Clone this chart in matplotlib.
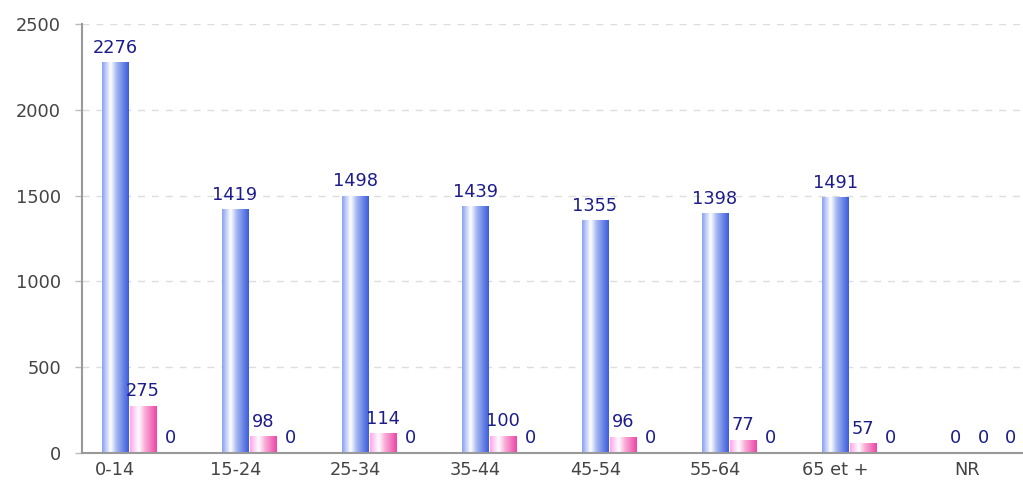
import matplotlib
matplotlib.use("Agg")
import matplotlib.pyplot as plt
import numpy as np
from matplotlib.colors import LinearSegmentedColormap

categories = ["0-14", "15-24", "25-34", "35-44", "45-54", "55-64", "65 et +", "NR"]
series_a = [2276, 1419, 1498, 1439, 1355, 1398, 1491, 0]
series_b = [275, 98, 114, 100, 96, 77, 57, 0]
series_c = [0, 0, 0, 0, 0, 0, 0, 0]
y_ticks = [0, 500, 1000, 1500, 2000, 2500]

# tick label shift relative to group center (in group units)
label_shift = [-0.23, -0.23, -0.23, -0.23, -0.23, -0.23, -0.23, -0.13]

blue_cmap = LinearSegmentedColormap.from_list(
    "blue", [(0.0, "#8aa2f2"), (0.32, "#ffffff"), (0.55, "#a4b6f2"), (1.0, "#3c5cdc")])
pink_cmap = LinearSegmentedColormap.from_list(
    "pink", [(0.0, "#ffa6ea"), (0.32, "#ffffff"), (0.55, "#fbaed9"), (1.0, "#ec46a6")])

LABEL_COLOR = "#1c1c8a"
FS = 12.8

fig = plt.figure(figsize=(10.23, 4.8), dpi=100)
ax = fig.add_axes([82 / 1023, 27 / 480, 1 - 82 / 1023, 429 / 480])

x = np.arange(len(categories))
step = 0.233
width = 0.217
grad = np.linspace(0, 1, 64).reshape(1, -1)


def gradient_bars(xpos, values, cmap):
    bars = ax.bar(xpos, values, width, color="none", edgecolor="none")
    for bar in bars:
        h = bar.get_height()
        if h <= 0:
            continue
        x0 = bar.get_x()
        im = ax.imshow(grad, cmap=cmap, aspect="auto",
                       extent=[x0, x0 + bar.get_width(), 0, h], zorder=2)
        im.set_clip_path(bar)
    for xp, v in zip(xpos, values):
        ax.annotate(str(v), (xp, v), xytext=(0, 4), textcoords="offset points",
                    ha="center", va="bottom", fontsize=FS, color=LABEL_COLOR,
                    zorder=3)


gradient_bars(x - step, series_a, blue_cmap)
gradient_bars(x, series_b, pink_cmap)
gradient_bars(x + step, series_c, blue_cmap)

ax.set_xlim(-0.508, 7.333)
ax.set_ylim(0, 2500)
ax.set_yticks(y_ticks)
ax.set_xticks(x + np.array(label_shift))
ax.set_xticklabels(categories)
ax.tick_params(axis="x", length=0, pad=6, labelsize=FS, labelcolor="#444444")
ax.tick_params(axis="y", length=5, width=1, color="#bbbbbb", pad=10,
               labelsize=FS, labelcolor="#444444")

ax.yaxis.grid(True, linestyle=(0, (5, 5)), color="#dddddd", linewidth=1)
ax.set_axisbelow(True)
for side in ("top", "right"):
    ax.spines[side].set_visible(False)
for side in ("left", "bottom"):
    ax.spines[side].set_color("#999999")
    ax.spines[side].set_linewidth(1.5)

fig.savefig("out.png", dpi=100)
